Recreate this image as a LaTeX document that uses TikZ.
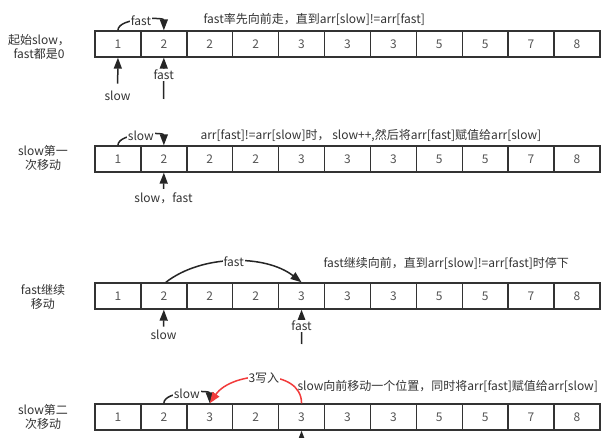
\documentclass[tikz,border=0pt]{standalone}
\usepackage{fontspec}
\setmainfont{Noto Sans CJK SC}
\usetikzlibrary{arrows.meta}
\definecolor{txt}{HTML}{333333}
\definecolor{numc}{HTML}{555555}
\definecolor{redarr}{HTML}{F23B3B}
\begin{document}
\begin{tikzpicture}[x=1pt,y=-1pt,
  every node/.style={font=\fontsize{12}{14}\selectfont, text=txt},
  cell/.style={draw=black!80, line width=1.4pt, minimum width=45.9pt, minimum height=26pt, inner sep=0pt, text=numc},
  arr/.style={-{Triangle[length=11pt,width=8pt]}, line width=1.5pt, draw=black!85},
  redline/.style={-{Triangle[length=11pt,width=8pt]}, line width=1.5pt, draw=redarr},
  lbl/.style={fill=white, inner sep=1pt},
  side/.style={align=center},
  note/.style={anchor=west}]
\fill[white] (0,0) rectangle (616,438);
\clip (0,0) rectangle (616,438);
% cells
\foreach \r/\y in {1/44,2/159,3/296}{
  \foreach \v [count=\i] in {1,2,2,2,3,3,3,5,5,7,8}
    \node[cell] (r\r-\i) at ({95+(\i-0.5)*45.9},\y) {\v};
}
\foreach \v [count=\i] in {1,2,3,2,3,3,3,5,5,7,8}
  \node[cell] (r4-\i) at ({95+(\i-0.5)*45.9},417) {\v};
% side labels
\node[side] (s1) at (39,46.5) {起始slow，\\fast都是0};
\node[side] (s2) at (43,158) {slow第一\\次移动};
\node[side] (s3) at (43,296.5) {fast继续\\移动};
\node[side] (s4) at (43,417) {slow第二\\次移动};
% notes
\node[note] (n1) at (200,19) {fast率先向前走，直到arr[slow]!=arr[fast]};
\node[note] (n2) at (197,136) {arr[fast]!=arr[slow]时， slow++,然后将arr[fast]赋值给arr[slow]};
\node[note] (n3) at (320,263) {fast继续向前，直到arr[slow]!=arr[fast]时停下};
\node[note] (n4) at (294,386) {slow向前移动一个位置，同时将arr[fast]赋值给arr[slow]};
% row 1
\draw[arr] (r1-1.north) .. controls +(0,-13) and +(0,-13) .. node[lbl]{fast} (r1-2.north);
\node (sl1) at (117.5,96) {slow};
\draw[arr, shorten <=4pt] (sl1) -- (r1-1.south);
\coordinate (f1) at (163.5,99);
\draw[arr] (f1) -- node[lbl, pos=0.58]{fast} (r1-2.south);
% row 2
\draw[arr] (r2-1.north) .. controls +(0,-13) and +(0,-13) .. node[lbl]{slow} (r2-2.north);
\node (sf2) at (163.5,198) {slow，fast};
\draw[arr] (sf2) -- (r2-2.south);
% row 3
\draw[arr] ([xshift=2pt]r3-2.north) .. controls +(36,-28) and +(-36,-28) .. node[lbl]{fast} (r3-5.north);
\node (sl3) at (163.5,335) {slow};
\draw[arr] (sl3) -- (r3-2.south);
\coordinate (f3) at (301.5,344);
\draw[arr] (f3) -- node[lbl, pos=0.52]{fast} (r3-5.south);
% row 4
\draw[arr] (r4-2.north) .. controls +(0,-13) and +(0,-13) .. node[lbl]{slow} (r4-3.north);
\draw[redline] (r4-5.north) .. controls +(0,-36) and +(22,-32) .. node[lbl]{3写入} (r4-3.north);
\coordinate (f4) at (301.5,460);
\draw[arr] (f4) -- (r4-5.south);
\end{tikzpicture}
\end{document}
